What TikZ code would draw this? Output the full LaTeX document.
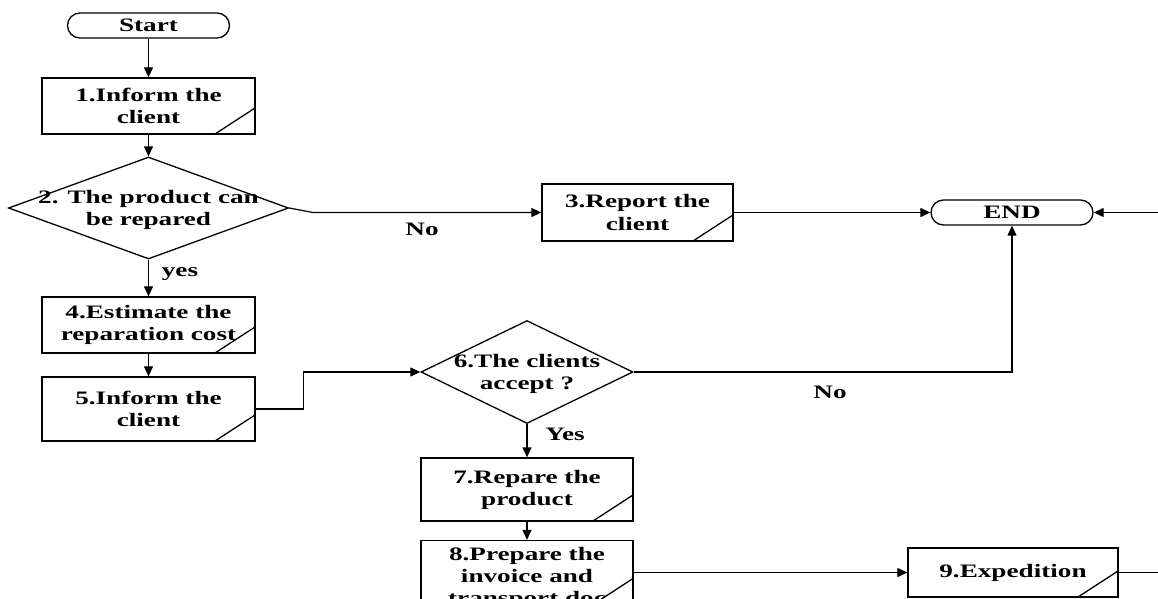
\documentclass[tikz,border=0pt]{standalone}
\usepackage{fontspec}
\setmainfont{Liberation Serif}[FakeStretch=1.43]
\usetikzlibrary{arrows.meta,shapes.geometric}

\begin{document}
\begin{tikzpicture}[x=1pt,y=-1pt,
  every node/.style={font=\bfseries\fontsize{19}{22}\selectfont, align=center, inner sep=0pt},
  conn/.style={line width=1.2pt, -{Triangle[length=10pt,width=9pt]}},
  term/.style={draw, line width=1.3pt, rectangle, rounded corners=12.5pt,
    minimum width=162pt, minimum height=25pt},
  task/.style={draw, line width=1.3pt, rectangle,
    path picture={\draw[line width=1.3pt]
      ([xshift=-40pt]path picture bounding box.south east) --
      ([yshift=26pt]path picture bounding box.south east);}},
  dec/.style={draw, line width=1.3pt, diamond, aspect=2},
  lbl/.style={}
]
\useasboundingbox (0,0) rectangle (1158,599);
\clip (0,0) rectangle (1158,599);

% process steps
\node[term] (start) at (148.5,25.5) {Start};
\node[task, minimum width=213pt, minimum height=56pt] (b1) at (148.5,106) {1.Inform the\\client};
\node[dec, minimum width=280pt, minimum height=102pt] (d2) at (148.5,208) {};
\node (d2t) at (148.5,210) {2. The product can\\be repared};
\node[task, minimum width=191pt, minimum height=57pt] (b3) at (637.5,212.5) {3.Report the\\client};
\node[term] (end) at (1012,212.5) {END};
\node[task, minimum width=213pt, minimum height=56pt] (b4) at (148.5,325) {4.Estimate the\\reparation cost};
\node[task, minimum width=213pt, minimum height=64pt] (b5) at (148.5,409) {5.Inform the\\client};
\node[dec, minimum width=212pt, minimum height=103pt] (d6) at (527,372) {};
\node (d6t) at (527,374) {6.The clients\\accept ?};
\node[task, minimum width=212pt, minimum height=63pt] (b7) at (527,489.5) {7.Repare the\\product};
\node[task, minimum width=212pt, minimum height=64pt] (b8) at (527,572.5) {};
\node (b8t) at (527,577.5) {8.Prepare the\\invoice and\\transport doc};
\node[task, minimum width=210pt, minimum height=49pt] (b9) at (1013,572.5) {9.Expedition};

% branch labels
\node[lbl] (no1) at (422,229) {No};
\node[lbl] (yes1) at (180,274) {yes};
\node[lbl] (no2) at (830,392) {No};
\node[lbl] (yes2) at (565,434) {Yes};

% connectors
\coordinate (k2) at (313,212.5);
\coordinate (r9) at (1175,400);
\draw[conn] (start) -- (b1);
\draw[conn] (b1) -- (d2.north);
\draw[conn] (d2.east) -- (k2) -- (b3.west);
\draw[conn] (b3) -- (end);
\draw[conn] (d2.south) -- (b4);
\draw[conn] (b4) -- (b5);
\draw[conn] (b5.east) -- ++(48,0) |- (d6.west);
\draw[conn] (d6.east) -| (end.south);
\draw[conn] (d6.south) -- (b7);
\draw[conn] (b7) -- (b8);
\draw[conn] (b8.east |- b9.west) -- (b9.west);
\draw[conn] (b9.east) -| (r9) |- (end.east);
\end{tikzpicture}
\end{document}
